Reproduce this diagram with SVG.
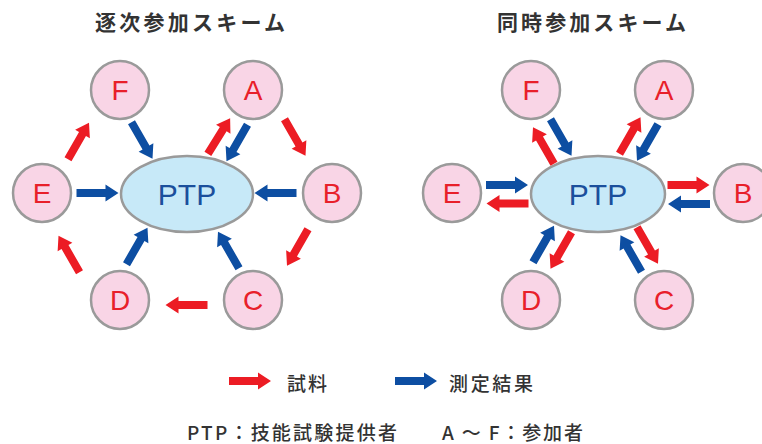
<svg xmlns="http://www.w3.org/2000/svg" xmlns:xlink="http://www.w3.org/1999/xlink" width="762" height="444" viewBox="0 0 762 444">
<style>
.bg{fill:#ffffff}
.node{fill:#F9D5E6;stroke:#9A9A9A;stroke-width:2.5}
.ptp{fill:#C7E9F8;stroke:#9A9A9A;stroke-width:2.5}
.lt{font-family:"Liberation Sans",Arial,sans-serif;font-size:28px;fill:#E8202A;text-anchor:middle}
.pt{font-family:"Liberation Sans",Arial,sans-serif;font-size:30px;fill:#1B4F9C;text-anchor:middle}
.title{font-family:"Noto Sans CJK JP",sans-serif;font-size:21px;font-weight:700;fill:#333333}
.jp{font-family:"Noto Sans CJK JP",sans-serif;font-size:19px;font-weight:500;fill:#333333}
.r{fill:#EC1C24}
.b{fill:#0D4EA2}
</style>
<defs>
<path id="ar" d="M-21,-4 H8 V-8.5 L21,0 L8,8.5 V4 H-21 Z"/>
</defs>
<rect class="bg" x="0" y="0" width="762" height="444"/>
<text class="title" x="95" y="30" textLength="190" lengthAdjust="spacing">逐次参加スキーム</text>
<text class="title" x="497" y="30" textLength="189" lengthAdjust="spacing">同時参加スキーム</text>

<g id="left-PTP"><ellipse class="ptp" cx="187" cy="194" rx="66" ry="38"/><text class="pt" x="187" y="205">PTP</text></g>
<g id="left-A"><circle class="node" cx="253" cy="90" r="29"/><text class="lt" x="253" y="100">A</text></g>
<g id="left-B"><circle class="node" cx="332" cy="193" r="29"/><text class="lt" x="332" y="203">B</text></g>
<g id="left-C"><circle class="node" cx="253" cy="300" r="29"/><text class="lt" x="253" y="310">C</text></g>
<g id="left-D"><circle class="node" cx="120" cy="300" r="29"/><text class="lt" x="120" y="310">D</text></g>
<g id="left-E"><circle class="node" cx="42" cy="193" r="29"/><text class="lt" x="42" y="203">E</text></g>
<g id="left-F"><circle class="node" cx="120" cy="90" r="29"/><text class="lt" x="120" y="100">F</text></g>

<g id="right-PTP"><ellipse class="ptp" cx="598" cy="194" rx="67" ry="38"/><text class="pt" x="598" y="205">PTP</text></g>
<g id="right-A"><circle class="node" cx="664" cy="90" r="29"/><text class="lt" x="664" y="100">A</text></g>
<g id="right-B"><circle class="node" cx="743" cy="193" r="29"/><text class="lt" x="743" y="203">B</text></g>
<g id="right-C"><circle class="node" cx="664" cy="300" r="29"/><text class="lt" x="664" y="310">C</text></g>
<g id="right-D"><circle class="node" cx="531" cy="300" r="29"/><text class="lt" x="531" y="310">D</text></g>
<g id="right-E"><circle class="node" cx="452" cy="193" r="29"/><text class="lt" x="452" y="203">E</text></g>
<g id="right-F"><circle class="node" cx="531" cy="90" r="29"/><text class="lt" x="531" y="100">F</text></g>

<g id="connectors">
<use xlink:href="#ar" class="b" transform="translate(97.5,193)"/>
<use xlink:href="#ar" class="b" transform="translate(275.5,193) rotate(180)"/>
<use xlink:href="#ar" class="b" transform="translate(142,140.5) rotate(60)"/>
<use xlink:href="#ar" class="b" transform="translate(237,143) rotate(120)"/>
<use xlink:href="#ar" class="r" transform="translate(219,136) rotate(-58)"/>
<use xlink:href="#ar" class="r" transform="translate(295,137.5) rotate(60)"/>
<use xlink:href="#ar" class="r" transform="translate(78.5,141) rotate(-60)"/>
<use xlink:href="#ar" class="r" transform="translate(297.5,247.5) rotate(120)"/>
<use xlink:href="#ar" class="r" transform="translate(186.5,305) rotate(180)"/>
<use xlink:href="#ar" class="r" transform="translate(69,254) rotate(-120)"/>
<use xlink:href="#ar" class="b" transform="translate(137,246) rotate(-60)"/>
<use xlink:href="#ar" class="b" transform="translate(228.5,250) rotate(-120)"/>

<use xlink:href="#ar" class="r" transform="translate(543.5,145.5) rotate(-120)"/>
<use xlink:href="#ar" class="b" transform="translate(561,137.5) rotate(60)"/>
<use xlink:href="#ar" class="r" transform="translate(630,135.5) rotate(-60)"/>
<use xlink:href="#ar" class="b" transform="translate(647.5,142.5) rotate(120)"/>
<use xlink:href="#ar" class="b" transform="translate(507,185)"/>
<use xlink:href="#ar" class="r" transform="translate(507.5,203.5) rotate(180)"/>
<use xlink:href="#ar" class="r" transform="translate(688.5,185)"/>
<use xlink:href="#ar" class="b" transform="translate(689,204) rotate(180)"/>
<use xlink:href="#ar" class="b" transform="translate(543.5,244) rotate(-60)"/>
<use xlink:href="#ar" class="r" transform="translate(561,250.5) rotate(120)"/>
<use xlink:href="#ar" class="b" transform="translate(631,253.5) rotate(-120)"/>
<use xlink:href="#ar" class="r" transform="translate(647.5,245.5) rotate(60)"/>
</g>

<g id="legend">
<use xlink:href="#ar" class="r" transform="translate(250,381)"/>
<text class="jp" x="287" y="391" textLength="40" lengthAdjust="spacing">試料</text>
<use xlink:href="#ar" class="b" transform="translate(416,381)"/>
<text class="jp" x="449" y="391" textLength="84" lengthAdjust="spacing">測定結果</text>
<text class="jp" x="187" y="440" textLength="210" lengthAdjust="spacing">PTP：技能試験提供者</text>
<text class="jp" x="442" y="440" textLength="141" lengthAdjust="spacing">A ～ F：参加者</text>
</g>
</svg>
